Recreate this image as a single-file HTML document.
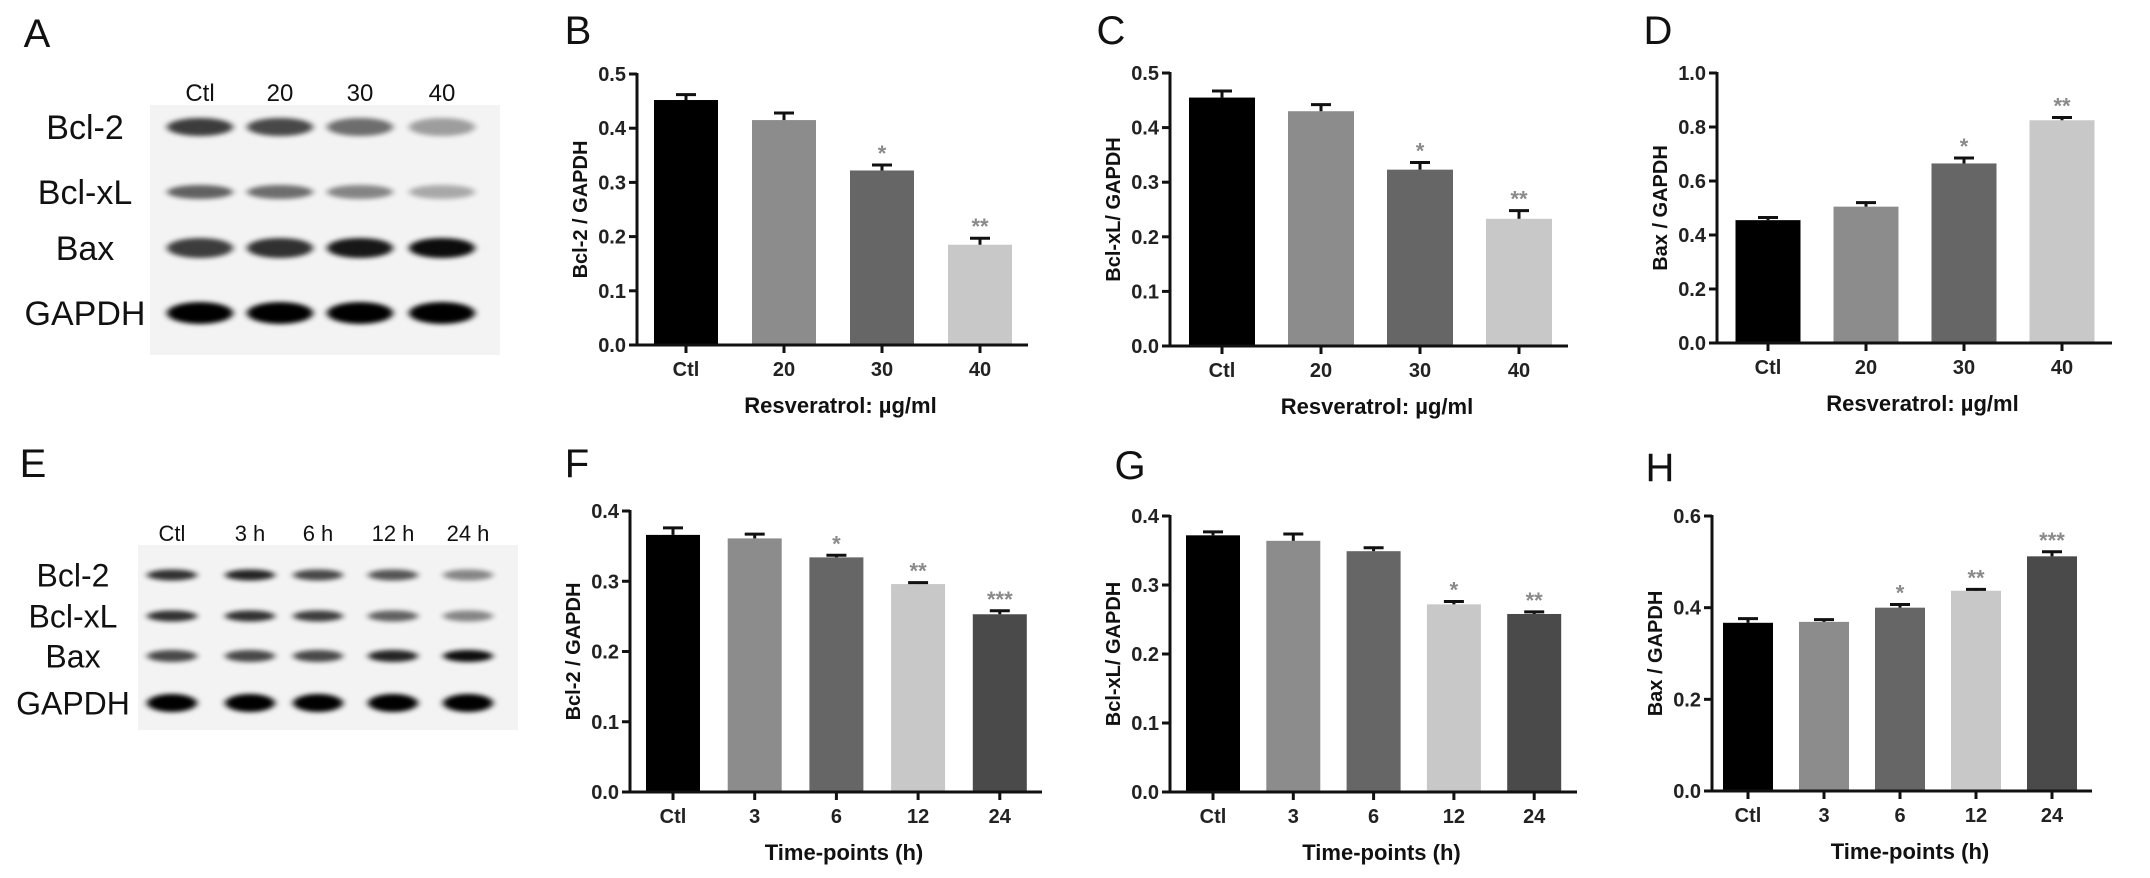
<!DOCTYPE html>
<html><head><meta charset="utf-8"><style>
html,body{margin:0;padding:0;background:#fff;}
svg{display:block;font-family:"Liberation Sans",Arial,sans-serif;}
</style></head><body>
<svg id="fig" width="2150" height="878" viewBox="0 0 2150 878" xmlns="http://www.w3.org/2000/svg">
<defs>
<filter id="blur" x="-30%" y="-100%" width="160%" height="300%"><feGaussianBlur stdDeviation="3.5 2.5"/></filter>
</defs>
</svg>
<script>
// ---- data ----
const doseCats = ["Ctl","20","30","40"];
const timeCats = ["Ctl","3","6","12","24"];
const bVals = [0.452,0.415,0.322,0.185];
const bErr  = [0.010,0.013,0.010,0.012];
const bSig  = ["","","*","**"];
const cVals = [0.455,0.430,0.323,0.233];
const cErr  = [0.012,0.012,0.013,0.015];
const cSig  = ["","","*","**"];
const dVals = [0.455,0.505,0.665,0.825];
const dErr  = [0.010,0.015,0.020,0.010];
const dSig  = ["","","*","**"];
const fVals = [0.366,0.361,0.334,0.296,0.253];
const fErr  = [0.010,0.006,0.003,0.002,0.005];
const fSig  = ["","","*","**","***"];
const gVals = [0.372,0.364,0.349,0.272,0.258];
const gErr  = [0.005,0.010,0.005,0.004,0.003];
const gSig  = ["","","","*","**"];
const hVals = [0.367,0.369,0.400,0.437,0.512];
const hErr  = [0.009,0.005,0.007,0.003,0.010];
const hSig  = ["","","*","**","***"];
const ticks05 = [0,0.1,0.2,0.3,0.4,0.5];
const ticks10 = [0,0.2,0.4,0.6,0.8,1.0];
const ticks04 = [0,0.1,0.2,0.3,0.4];
const ticks06 = [0,0.2,0.4,0.6];
const blotARows = ["Bcl-2","Bcl-xL","Bax","GAPDH"];
const blotALanes = ["Ctl","20","30","40"];
const blotAIntensity = [[0.75,0.7,0.55,0.35],[0.6,0.55,0.45,0.3],[0.75,0.8,0.9,0.95],[1,1,1,1]];
const blotERows = ["Bcl-2","Bcl-xL","Bax","GAPDH"];
const blotELanes = ["Ctl","3 h","6 h","12 h","24 h"];
const blotEIntensity = [[0.8,0.85,0.7,0.65,0.45],[0.8,0.8,0.75,0.6,0.45],[0.7,0.7,0.7,0.85,0.95],[1,1,1,1,1]];

const NS = "http://www.w3.org/2000/svg";
const svg = document.getElementById('fig');
const COLORS = ["#000000","#8c8c8c","#666666","#c8c8c8","#4a4a4a"];
function mk(tag, attrs, parent){
  const e = document.createElementNS(NS, tag);
  for (const k in attrs) e.setAttribute(k, attrs[k]);
  (parent||svg).appendChild(e);
  return e;
}
function txt(s, x, y, size, weight, anchor, parent){
  const t = mk('text', {x:x, y:y, 'font-size':size, 'font-weight':weight, 'text-anchor':anchor, fill:'#111'}, parent);
  t.textContent = s;
  return t;
}

function chart(cfg){
  const g = mk('g', {});
  
  
  const yMax = cfg.ticks[cfg.ticks.length-1];
  const yS = v => cfg.y0 - (v / yMax) * (cfg.y0 - cfg.yTop);
  const xS = i => cfg.c0 + i * cfg.step;
  // bars
  cfg.vals.forEach((v,i)=>{
    const r = mk('rect', {x:xS(i)-cfg.bw/2, y:yS(v), width:cfg.bw, height:cfg.y0-yS(v), fill:COLORS[i]}, g);
    
    
    const top = yS(v + cfg.err[i]);
    const e1 = mk('line', {x1:xS(i), x2:xS(i), y1:yS(v), y2:top, stroke:'#111','stroke-width':3}, g);
    
    
    mk('line', {x1:xS(i)-10, x2:xS(i)+10, y1:top, y2:top, stroke:'#111','stroke-width':3}, g);
    if (cfg.sig[i]) {
      const s = txt(cfg.sig[i], xS(i), top-4, 22, 'bold', 'middle', g);
      s.setAttribute('fill', '#8a8a8a');
      
      
    }
  });
  // axes
  const ya = mk('line', {x1:cfg.ax, x2:cfg.ax, y1:cfg.yTop-1, y2:cfg.y0, stroke:'#111','stroke-width':3}, g);
  
  
  const xa = mk('line', {x1:cfg.ax-8, x2:cfg.xEnd, y1:cfg.y0, y2:cfg.y0, stroke:'#111','stroke-width':3}, g);
  
  
  cfg.ticks.forEach(t=>{
    mk('line', {x1:cfg.ax-8, x2:cfg.ax, y1:yS(t), y2:yS(t), stroke:'#111','stroke-width':3}, g);
    const l = txt(t.toFixed(1), cfg.ax-11, yS(t)+7, 20, 'bold', 'end', g);
    l.setAttribute('fill', '#222');
    
    
  });
  cfg.cats.forEach((c,i)=>{
    mk('line', {x1:xS(i), x2:xS(i), y1:cfg.y0, y2:cfg.y0+8, stroke:'#111','stroke-width':3}, g);
    const l = txt(c, xS(i), cfg.y0+31, 20, 'bold', 'middle', g);
    l.setAttribute('fill', '#222');
    
    
  });
  const yt = txt(cfg.ytitle, 0, 0, 20, 'bold', 'middle', g);
  yt.setAttribute('transform', `translate(${cfg.ax-50},${(cfg.y0+cfg.yTop)/2}) rotate(-90)`);
  
  
  const xt = txt(cfg.xtitle, (cfg.ax+cfg.xEnd)/2 + 8, cfg.y0+68, 22, 'bold', 'middle', g);
  
  
  const pl = txt(cfg.letter, cfg.lx, cfg.ly, 40, 'normal', 'middle', g);
  
  
}

function blot(cfg){
  const g = mk('g', {});
  
  
  mk('rect', {x:cfg.bx, y:cfg.by, width:cfg.bwid, height:cfg.bh, fill:'#f3f3f3'}, g);
  cfg.rows.forEach((r,ri)=>{
    const l = txt(r, cfg.labelX, cfg.rowY[ri]+cfg.fs*0.36, cfg.fs, 'normal', 'middle', g);
    
    
    cfg.laneX.forEach((x,li)=>{
      const a = cfg.intensity[ri][li];
      const band = mk('ellipse', {cx:x, cy:cfg.rowY[ri], rx:cfg.laneW/2, ry:cfg.bandH[ri]/2, fill:'#000', opacity:a, filter:'url(#blur)'}, g);
      
      
    });
  });
  cfg.lanes.forEach((s,li)=>{
    const l = txt(s, cfg.laneX[li], cfg.laneLabelY, cfg.lfs, 'normal', 'middle', g);
    
    
  });
  const pl = txt(cfg.letter, cfg.lx, cfg.ly, 40, 'normal', 'middle', g);
  
  
}

blot({name:'blot-a', letter:'A', lx:37, ly:47, bx:150, by:105, bwid:350, bh:250,
  rows:blotARows, lanes:blotALanes, intensity:blotAIntensity,
  laneX:[200,280,360,442], laneW:66, rowY:[127,192,248,313], bandH:[18,14,20,22],
  labelX:85, fs:34, laneLabelY:101, lfs:24});
blot({name:'blot-e', letter:'E', lx:33, ly:477, bx:138, by:545, bwid:380, bh:185,
  rows:blotERows, lanes:blotELanes, intensity:blotEIntensity,
  laneX:[172,250,318,393,468], laneW:50, rowY:[575,616,656,703], bandH:[11,11,12,18],
  labelX:73, fs:32, laneLabelY:541, lfs:22});

chart({name:'chart-b', letter:'B', lx:578, ly:44, cats:doseCats, vals:bVals, err:bErr, sig:bSig,
  ticks:ticks05, ax:637, y0:345, yTop:74, xEnd:1028, c0:686, step:98, bw:64,
  ytitle:'Bcl-2 / GAPDH', xtitle:'Resveratrol: µg/ml'});
chart({name:'chart-c', letter:'C', lx:1111, ly:44, cats:doseCats, vals:cVals, err:cErr, sig:cSig,
  ticks:ticks05, ax:1170, y0:346, yTop:73, xEnd:1568, c0:1222, step:99, bw:66,
  ytitle:'Bcl-xL/ GAPDH', xtitle:'Resveratrol: µg/ml'});
chart({name:'chart-d', letter:'D', lx:1658, ly:44, cats:doseCats, vals:dVals, err:dErr, sig:dSig,
  ticks:ticks10, ax:1717, y0:343, yTop:73, xEnd:2112, c0:1768, step:98, bw:65,
  ytitle:'Bax / GAPDH', xtitle:'Resveratrol: µg/ml'});
chart({name:'chart-f', letter:'F', lx:577, ly:477, cats:timeCats, vals:fVals, err:fErr, sig:fSig,
  ticks:ticks04, ax:630, y0:792, yTop:511, xEnd:1042, c0:673, step:81.7, bw:54,
  ytitle:'Bcl-2 / GAPDH', xtitle:'Time-points (h)'});
chart({name:'chart-g', letter:'G', lx:1130, ly:479, cats:timeCats, vals:gVals, err:gErr, sig:gSig,
  ticks:ticks04, ax:1170, y0:792, yTop:516, xEnd:1577, c0:1213, step:80.3, bw:54,
  ytitle:'Bcl-xL/ GAPDH', xtitle:'Time-points (h)'});
chart({name:'chart-h', letter:'H', lx:1660, ly:481, cats:timeCats, vals:hVals, err:hErr, sig:hSig,
  ticks:ticks06, ax:1712, y0:791, yTop:516, xEnd:2092, c0:1748, step:76, bw:50,
  ytitle:'Bax / GAPDH', xtitle:'Time-points (h)'});
</script>
</body></html>
